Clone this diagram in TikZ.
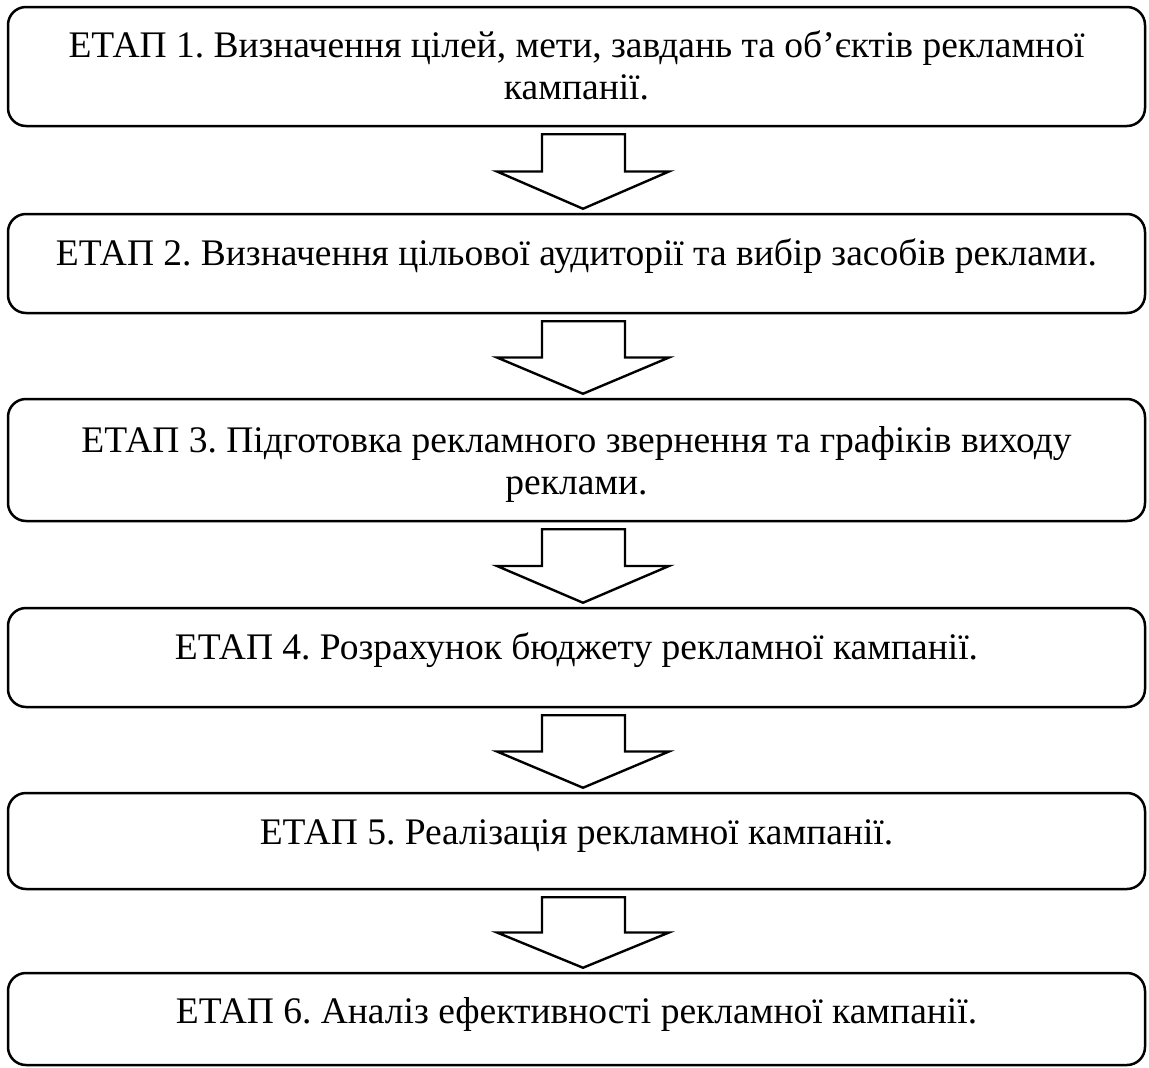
\documentclass[tikz,border=0pt]{standalone}
\usepackage{fontspec}
\setmainfont{Liberation Serif}
\usetikzlibrary{calc}
\begin{document}
\frenchspacing
\begin{tikzpicture}[x=1pt,y=-1pt,
  stagebox/.style={draw, line width=2.5pt, rounded corners=18pt, minimum width=1137pt, inner sep=0pt},
  stagetext/.style={anchor=base, align=center, font=\fontsize{37.5pt}{42pt}\selectfont\frenchspacing, inner sep=0pt},
  blockarrow/.style={draw, line width=2.4pt, line join=miter, fill=white}]
\useasboundingbox (0,0) rectangle (1149,1068);
% boxes
\node[stagebox, minimum height=119pt] (s1) at (576.5,66.5) {};
\node[stagebox, minimum height=99pt]  (s2) at (576.5,263.5) {};
\node[stagebox, minimum height=122pt] (s3) at (576.5,460) {};
\node[stagebox, minimum height=99pt]  (s4) at (576.5,657.5) {};
\node[stagebox, minimum height=96pt]  (s5) at (576.5,841) {};
\node[stagebox, minimum height=92pt]  (s6) at (576.5,1019) {};
% texts (base anchor = baseline of last line)
\node[stagetext] (t1) at ($(s1.center)+(0,32.5)$) {ЕТАП 1. Визначення цілей, мети, завдань та об’єктів рекламної\\кампанії.};
\node[stagetext] (t2) at ($(s2.center)+(0,2)$) {ЕТАП 2. Визначення цільової аудиторії та вибір засобів реклами.};
\node[stagetext] (t3) at ($(s3.center)+(0,34)$) {ЕТАП 3. Підготовка рекламного звернення та графіків виходу\\реклами.};
\node[stagetext] (t4) at ($(s4.center)+(0,2)$) {ЕТАП 4. Розрахунок бюджету рекламної кампанії.};
\node[stagetext] (t5) at ($(s5.center)+(0,3)$) {ЕТАП 5. Реалізація рекламної кампанії.};
\node[stagetext] (t6) at ($(s6.center)+(0,4)$) {ЕТАП 6. Аналіз ефективності рекламної кампанії.};
% block arrows
\foreach \a/\b in {s1/s2,s2/s3,s3/s4,s4/s5,s5/s6}{
  \draw[blockarrow] let \p1=(\a.south), \p2=(\b.north),
      \n1={\y1-7pt}, \n2={\y2+4pt}, \n3={(\y1+\y2-3pt)/2} in
    (\x1-34.5pt,\n1) -- (\x1+48.5pt,\n1) -- (\x1+48.5pt,\n3) -- (\x1+92.5pt,\n3)
    -- (\x1+6.5pt,\n2) -- (\x1-79.5pt,\n3) -- (\x1-34.5pt,\n3) -- cycle;
}
\end{tikzpicture}
\end{document}
